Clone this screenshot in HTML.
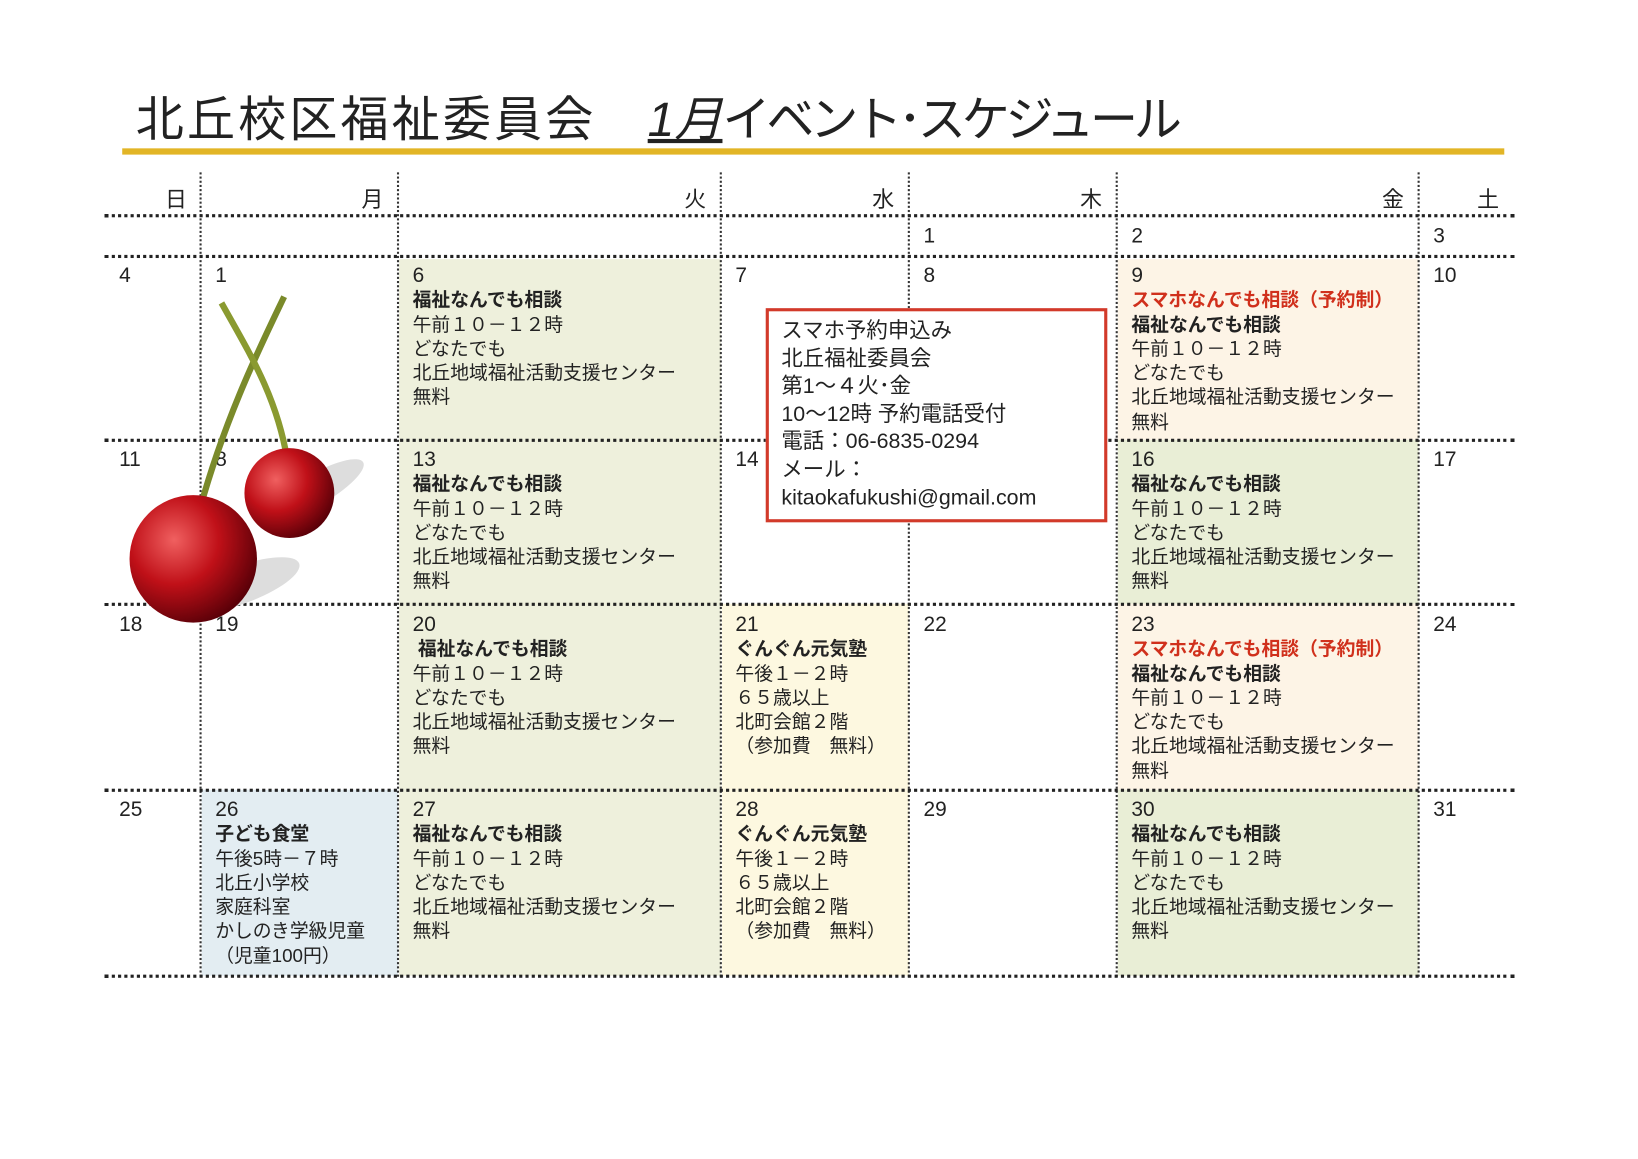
<!DOCTYPE html>
<html><head><meta charset="utf-8"><style>
html,body{margin:0;padding:0;background:#fff;overflow:hidden}
#w{position:absolute;left:0;top:0;width:1568px;height:1109px;transform:scale(1.04464);transform-origin:0 0;font-family:"Liberation Sans","Noto Sans CJK JP",sans-serif;color:#222}
.a{position:absolute}
.t{position:absolute;font-size:18px;line-height:23.3px;white-space:nowrap}
.t .d{font-size:20px}
.b{font-weight:bold}
.r{color:#d0301c;font-weight:bold}
.vl{position:absolute;top:165px;height:770px;border-left:2px dotted #333;width:0}
.hl{position:absolute;left:100px;width:1350px;height:0;border-top:3px dotted #222}
.hd{position:absolute;top:175px;font-size:21px}
</style></head><body><div id="w">
<div class="a" style="left:130px;top:78px;font-size:46px;letter-spacing:3px;white-space:nowrap">北丘校区福祉委員会　<span style="text-decoration:underline;font-style:italic;letter-spacing:0">1月</span><span style="letter-spacing:-4px">イベント･スケジュール</span></div>
<div class="a" style="left:117px;top:142px;width:1323px;height:6px;background:#e2b526"></div>

<div class="a" style="left:382px;top:248px;width:308px;height:686px;background:#eef0dc"></div>
<div class="a" style="left:1070px;top:248px;width:288px;height:173px;background:#fdf4e6"></div>
<div class="a" style="left:1070px;top:421px;width:288px;height:157px;background:#e9eed6"></div>
<div class="a" style="left:1070px;top:578px;width:288px;height:178px;background:#fdf4e6"></div>
<div class="a" style="left:1070px;top:756px;width:288px;height:178px;background:#e9eed6"></div>
<div class="a" style="left:691px;top:578px;width:179px;height:356px;background:#fdf8e0"></div>
<div class="a" style="left:193px;top:756px;width:188px;height:178px;background:#e3edf2"></div>

<div class="vl" style="left:191px"></div><div class="vl" style="left:380px"></div><div class="vl" style="left:689px"></div><div class="vl" style="left:869px"></div><div class="vl" style="left:1068px"></div><div class="vl" style="left:1357px"></div>
<div class="hl" style="top:205px"></div><div class="hl" style="top:244px"></div><div class="hl" style="top:420px"></div><div class="hl" style="top:577px"></div><div class="hl" style="top:755px"></div><div class="hl" style="top:933px"></div>

<div class="hd" style="left:158px">日</div><div class="hd" style="left:346px">月</div><div class="hd" style="left:655px">火</div><div class="hd" style="left:835px">水</div><div class="hd" style="left:1034px">木</div><div class="hd" style="left:1323px">金</div><div class="hd" style="left:1414px">土</div>

<div class="t" style="left:884px;top:215px"><span class="d">1</span></div><div class="t" style="left:1083px;top:215px"><span class="d">2</span></div><div class="t" style="left:1372px;top:215px"><span class="d">3</span></div>

<div class="t" style="left:114px;top:253px"><span class="d">4</span></div><div class="t" style="left:206px;top:253px"><span class="d">1</span></div>
<div class="t" style="left:395px;top:253px"><span class="d">6</span><br><span class="b">福祉なんでも相談</span><br>午前１０－１２時<br>どなたでも<br>北丘地域福祉活動支援センター<br>無料</div>
<div class="t" style="left:704px;top:253px"><span class="d">7</span></div><div class="t" style="left:884px;top:253px"><span class="d">8</span></div>
<div class="t" style="left:1083px;top:253px"><span class="d">9</span><br><span class="r">スマホなんでも相談（予約制）</span><br><span class="b">福祉なんでも相談</span><br>午前１０－１２時<br>どなたでも<br>北丘地域福祉活動支援センター<br>無料</div>
<div class="t" style="left:1372px;top:253px"><span class="d">10</span></div>

<div class="t" style="left:114px;top:429px"><span class="d">11</span></div><div class="t" style="left:206px;top:429px"><span class="d">8</span></div>
<div class="t" style="left:395px;top:429px"><span class="d">13</span><br><span class="b">福祉なんでも相談</span><br>午前１０－１２時<br>どなたでも<br>北丘地域福祉活動支援センター<br>無料</div>
<div class="t" style="left:704px;top:429px"><span class="d">14</span></div>
<div class="t" style="left:1083px;top:429px"><span class="d">16</span><br><span class="b">福祉なんでも相談</span><br>午前１０－１２時<br>どなたでも<br>北丘地域福祉活動支援センター<br>無料</div>
<div class="t" style="left:1372px;top:429px"><span class="d">17</span></div>

<div class="t" style="left:114px;top:587px"><span class="d">18</span></div><div class="t" style="left:206px;top:587px"><span class="d">19</span></div>
<div class="t" style="left:395px;top:587px"><span class="d">20</span><br><span class="b">&nbsp;福祉なんでも相談</span><br>午前１０－１２時<br>どなたでも<br>北丘地域福祉活動支援センター<br>無料</div>
<div class="t" style="left:704px;top:587px"><span class="d">21</span><br><span class="b">ぐんぐん元気塾</span><br>午後１－２時<br>６５歳以上<br>北町会館２階<br>（参加費　無料）</div>
<div class="t" style="left:884px;top:587px"><span class="d">22</span></div>
<div class="t" style="left:1083px;top:587px"><span class="d">23</span><br><span class="r">スマホなんでも相談（予約制）</span><br><span class="b">福祉なんでも相談</span><br>午前１０－１２時<br>どなたでも<br>北丘地域福祉活動支援センター<br>無料</div>
<div class="t" style="left:1372px;top:587px"><span class="d">24</span></div>

<div class="t" style="left:114px;top:764px"><span class="d">25</span></div>
<div class="t" style="left:206px;top:764px"><span class="d">26</span><br><span class="b">子ども食堂</span><br>午後5時－７時<br>北丘小学校<br>家庭科室<br>かしのき学級児童<br>（児童100円）</div>
<div class="t" style="left:395px;top:764px"><span class="d">27</span><br><span class="b">福祉なんでも相談</span><br>午前１０－１２時<br>どなたでも<br>北丘地域福祉活動支援センター<br>無料</div>
<div class="t" style="left:704px;top:764px"><span class="d">28</span><br><span class="b">ぐんぐん元気塾</span><br>午後１－２時<br>６５歳以上<br>北町会館２階<br>（参加費　無料）</div>
<div class="t" style="left:884px;top:764px"><span class="d">29</span></div>
<div class="t" style="left:1083px;top:764px"><span class="d">30</span><br><span class="b">福祉なんでも相談</span><br>午前１０－１２時<br>どなたでも<br>北丘地域福祉活動支援センター<br>無料</div>
<div class="t" style="left:1372px;top:764px"><span class="d">31</span></div>

<div class="a" style="left:733px;top:295px;width:321px;height:199px;border:3px solid #d23a2a;background:#fff"></div>
<div class="t" style="left:748px;top:304px;font-size:20.5px;line-height:26.6px">スマホ予約申込み<br>北丘福祉委員会<br>第1～４火･金<br>10～12時 予約電話受付<br>電話：06-6835-0294<br>メール：<br>kitaokafukushi@gmail.com</div>

<svg class="a" style="left:100px;top:270px" width="280" height="340" viewBox="100 270 280 340">
<defs><radialGradient id="g" cx="0.35" cy="0.35" r="0.7"><stop offset="0" stop-color="#f06060"/><stop offset="0.5" stop-color="#c01018"/><stop offset="1" stop-color="#5a0008"/></radialGradient></defs>
<ellipse cx="300" cy="470" rx="55" ry="15" fill="#ddd" transform="rotate(-30 300 470)"/>
<ellipse cx="230" cy="560" rx="60" ry="18" fill="#ddd" transform="rotate(-20 230 560)"/>
<path d="M272 284 C250 330 215 400 190 492" stroke="#7a8a2a" stroke-width="6" fill="none"/>
<path d="M212 290 C240 340 265 380 275 440" stroke="#8a9a30" stroke-width="6" fill="none"/>
<circle cx="277" cy="472" r="43" fill="url(#g)"/>
<circle cx="185" cy="535" r="61" fill="url(#g)"/>
</svg>
</div></body></html>
